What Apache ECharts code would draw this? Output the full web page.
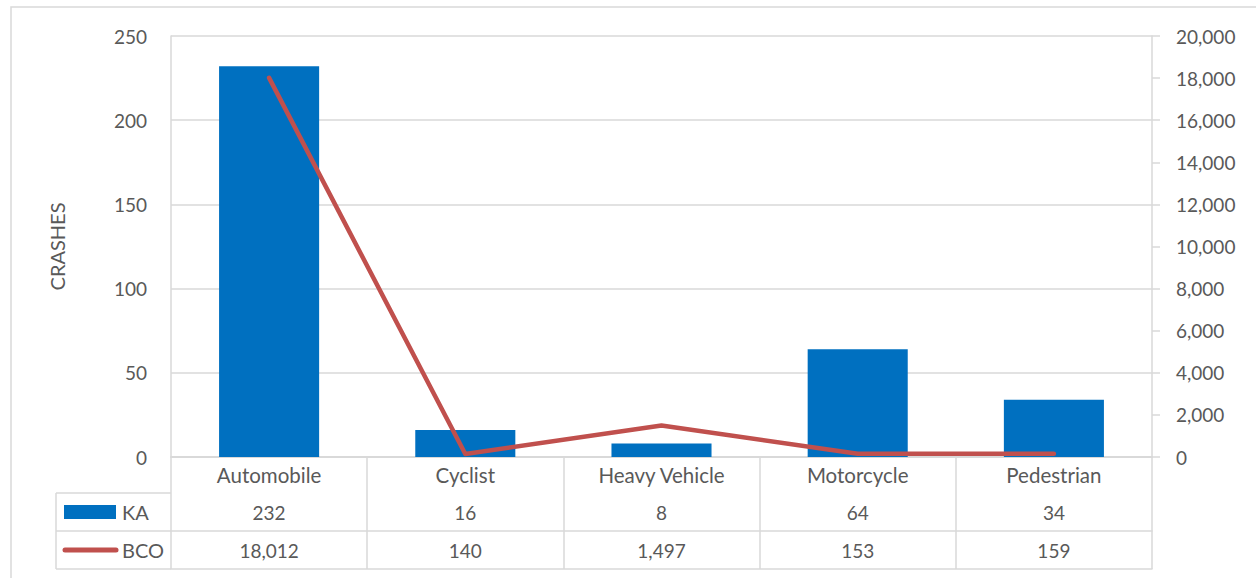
<!DOCTYPE html>
<html>
<head>
<meta charset="utf-8">
<script src="https://cdn.jsdelivr.net/npm/echarts@6/dist/echarts.min.js"></script>
<style>
  html, body { margin: 0; padding: 0; background: #fff; }
  #chart { width: 1256px; height: 578px; }
</style>
</head>
<body>
<div id="chart"></div>
<script>
// chart data
const categories = ['Automobile', 'Cyclist', 'Heavy Vehicle', 'Motorcycle', 'Pedestrian']
const kaValues = [232, 16, 8, 64, 34]
const bcoValues = [18012, 140, 1497, 153, 159]

const FONT = 'Lato'
const TEXT = '#595959'
const LINE = '#d9d9d9'
const BLUE = '#0070C0'
const RED = '#C0504D'

// plot area (px)
const G = { left: 171, right: 104, top: 36, bottom: 121 }
const rowH = [36, 38, 38]
const fmt = v => v.toLocaleString('en-US')

const chart = echarts.init(document.getElementById('chart'), null, { renderer: 'svg' })

const axisY0 = 578 - G.bottom
const r1 = axisY0 + rowH[0]
const r2 = r1 + rowH[1]
const r3 = r2 + rowH[2]
const tableLeft = 56

const tableAxis = (offset, data, showLabel) => ({
  type: 'category',
  position: 'bottom',
  offset: offset,
  data: data,
  axisLine: { show: true, lineStyle: { color: LINE, width: 1.5 } },
  axisTick: { show: false },
  axisLabel: { show: showLabel, margin: 10, color: TEXT, fontFamily: FONT, fontSize: 19 }
})

const options = {
  animation: false,
  textStyle: { fontFamily: FONT },
  grid: { left: G.left, right: G.right, top: G.top, bottom: G.bottom },
  xAxis: [
    {
      type: 'category',
      data: categories,
      axisLine: { show: true, lineStyle: { color: LINE, width: 1.5 } },
      axisTick: { show: true, length: rowH[0] + rowH[1] + rowH[2], lineStyle: { color: LINE, width: 1.5 } },
      axisLabel: { margin: 7, color: TEXT, fontFamily: FONT, fontSize: 20.5 }
    },
    tableAxis(rowH[0], kaValues.map(fmt), true),
    tableAxis(rowH[0] + rowH[1], bcoValues.map(fmt), true),
    tableAxis(rowH[0] + rowH[1] + rowH[2], categories, false)
  ],
  yAxis: [
    {
      type: 'value',
      min: 0,
      max: 250,
      interval: 50,
      name: 'CRASHES',
      nameLocation: 'middle',
      nameGap: 104,
      nameRotate: 90,
      nameTextStyle: { color: TEXT, fontFamily: FONT, fontSize: 20 },
      axisLine: { show: true, lineStyle: { color: LINE, width: 1.5 } },
      axisTick: { show: false },
      axisLabel: { margin: 24, color: TEXT, fontFamily: FONT, fontSize: 19 },
      splitLine: { lineStyle: { color: LINE, width: 1.5 } }
    },
    {
      type: 'value',
      min: 0,
      max: 20000,
      interval: 2000,
      position: 'right',
      axisLine: { show: true, lineStyle: { color: LINE, width: 1.5 } },
      axisTick: { show: true, length: 8, lineStyle: { color: LINE, width: 1.5 } },
      axisLabel: { margin: 24, color: TEXT, fontFamily: FONT, fontSize: 19, formatter: v => fmt(v) },
      splitLine: { show: false }
    }
  ],
  series: [
    {
      name: 'KA',
      type: 'bar',
      data: kaValues,
      barWidth: '51%',
      itemStyle: { color: BLUE }
    },
    {
      name: 'BCO',
      type: 'line',
      yAxisIndex: 1,
      data: bcoValues,
      symbol: 'none',
      lineStyle: { color: RED, width: 4.5, cap: 'round', join: 'round' }
    }
  ],
  graphic: [
    // outer frame
    { type: 'rect', shape: { x: 11, y: 7, width: 1300, height: 640 }, style: { fill: 'none', stroke: LINE, lineWidth: 1.5 }, silent: true },
    // legend column of the data table
    { type: 'line', shape: { x1: tableLeft, y1: r1, x2: G.left, y2: r1 }, style: { stroke: LINE, lineWidth: 1.5 } },
    { type: 'line', shape: { x1: tableLeft, y1: r2, x2: G.left, y2: r2 }, style: { stroke: LINE, lineWidth: 1.5 } },
    { type: 'line', shape: { x1: tableLeft, y1: r3, x2: G.left, y2: r3 }, style: { stroke: LINE, lineWidth: 1.5 } },
    { type: 'line', shape: { x1: tableLeft, y1: r1, x2: tableLeft, y2: r3 }, style: { stroke: LINE, lineWidth: 1.5 } },
    { type: 'rect', shape: { x: 64, y: r1 + 12, width: 52, height: 14 }, style: { fill: BLUE } },
    { type: 'text', x: 122, y: r1 + rowH[1] / 2, style: { text: 'KA', fill: TEXT, font: '20px ' + FONT, verticalAlign: 'middle' } },
    { type: 'line', shape: { x1: 65, y1: r2 + 19, x2: 116, y2: r2 + 19 }, style: { stroke: RED, lineWidth: 5, lineCap: 'round' } },
    { type: 'text', x: 122, y: r2 + rowH[2] / 2, style: { text: 'BCO', fill: TEXT, font: '20px ' + FONT, verticalAlign: 'middle' } }
  ]
}

chart.setOption(options)
</script>
</body>
</html>
